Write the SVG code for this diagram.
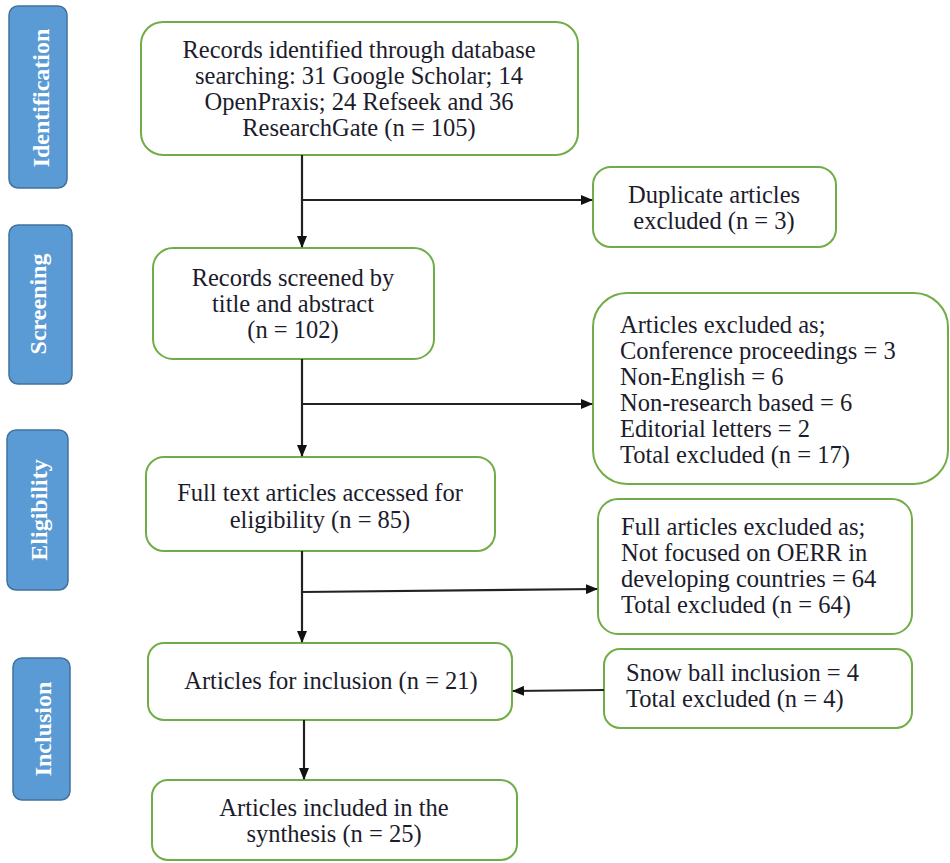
<svg xmlns="http://www.w3.org/2000/svg" width="950" height="863" viewBox="0 0 950 863" font-family="'Liberation Serif', 'Times New Roman', serif">
<style>
.box{fill:#fff;stroke:#70ad47;stroke-width:2}
.side{fill:#5b9bd5;stroke:#41719c;stroke-width:1.5}
.t{font-size:24.5px;fill:#1c1c2c}
.c{text-anchor:middle}
.s{font-size:24px;font-weight:bold;fill:#fff;text-anchor:middle}
.ln{stroke:#222;stroke-width:2.2;fill:none}
</style>
<defs>
<marker id="ah" markerWidth="12" markerHeight="10" refX="11" refY="5" orient="auto" markerUnits="userSpaceOnUse">
<path d="M0,0 L12,5 L0,10 z" fill="#111"/>
</marker>
</defs>
<rect width="950" height="863" fill="#fff"/>
<g id="side-identification"><rect class="side" x="9" y="6" width="58" height="182" rx="9"/><text class="s" font-family="'Liberation Serif'" transform="translate(49,98) rotate(-90)">Identification</text></g>
<g id="side-screening"><rect class="side" x="9" y="225" width="63" height="159" rx="9"/><text class="s" font-family="'Liberation Serif'" transform="translate(46,304) rotate(-90)">Screening</text></g>
<g id="side-eligibility"><rect class="side" x="7" y="430" width="61" height="160" rx="9"/><text class="s" font-family="'Liberation Serif'" transform="translate(47,510) rotate(-90)">Eligibility</text></g>
<g id="side-inclusion"><rect class="side" x="13" y="658" width="57" height="142" rx="9"/><text class="s" font-family="'Liberation Serif'" transform="translate(51,729) rotate(-90)">Inclusion</text></g>

<g id="identified"><rect class="box" x="141" y="22" width="437" height="133" rx="22"/>
<text class="t c" x="359" y="58">Records identified through database</text>
<text class="t c" x="359" y="84">searching: 31 Google Scholar; 14</text>
<text class="t c" x="359" y="110">OpenPraxis; 24 Refseek and 36</text>
<text class="t c" x="359" y="136">ResearchGate (n = 105)</text></g>

<g id="duplicates"><rect class="box" x="593" y="167" width="243" height="80" rx="18"/>
<text class="t c" x="714" y="203">Duplicate articles</text>
<text class="t c" x="714" y="229">excluded (n = 3)</text></g>

<g id="screened"><rect class="box" x="153" y="248" width="281" height="111" rx="20"/>
<text class="t c" x="293" y="286">Records screened by</text>
<text class="t c" x="293" y="312">title and abstract</text>
<text class="t c" x="293" y="338">(n = 102)</text></g>

<g id="excluded1"><rect class="box" x="593" y="293" width="355" height="191" rx="34"/>
<text class="t" x="620" y="333">Articles excluded as;</text>
<text class="t" x="620" y="359">Conference proceedings = 3</text>
<text class="t" x="620" y="385">Non-English = 6</text>
<text class="t" x="620" y="411">Non-research based = 6</text>
<text class="t" x="620" y="437">Editorial letters = 2</text>
<text class="t" x="620" y="463">Total excluded (n = 17)</text></g>

<g id="fulltext"><rect class="box" x="146" y="457" width="349" height="94" rx="18"/>
<text class="t c" x="320" y="501">Full text articles accessed for</text>
<text class="t c" x="320" y="528">eligibility (n = 85)</text></g>

<g id="excluded2"><rect class="box" x="598" y="499" width="314" height="135" rx="20"/>
<text class="t" x="621" y="535">Full articles excluded as;</text>
<text class="t" x="621" y="561">Not focused on OERR in</text>
<text class="t" x="621" y="587">developing countries = 64</text>
<text class="t" x="621" y="613">Total excluded (n = 64)</text></g>

<g id="inclusion"><rect class="box" x="148" y="643" width="364" height="77" rx="16"/>
<text class="t c" x="331" y="689">Articles for inclusion (n = 21)</text></g>

<g id="snowball"><rect class="box" x="604" y="649" width="308" height="79" rx="16"/>
<text class="t" x="626" y="681">Snow ball inclusion = 4</text>
<text class="t" x="626" y="707">Total excluded (n = 4)</text></g>

<g id="synthesis"><rect class="box" x="152" y="780" width="365" height="80" rx="16"/>
<text class="t c" x="334" y="816">Articles included in the</text>
<text class="t c" x="334" y="842">synthesis (n = 25)</text></g>

<g id="connectors">
<line class="ln" x1="302" y1="155" x2="302" y2="247" marker-end="url(#ah)"/>
<line class="ln" x1="302" y1="200" x2="592" y2="200" marker-end="url(#ah)"/>
<line class="ln" x1="302" y1="359" x2="302" y2="456" marker-end="url(#ah)"/>
<line class="ln" x1="302" y1="404" x2="592" y2="404" marker-end="url(#ah)"/>
<line class="ln" x1="302" y1="551" x2="302" y2="642" marker-end="url(#ah)"/>
<line class="ln" x1="302" y1="592" x2="597" y2="589" marker-end="url(#ah)"/>
<line class="ln" x1="304" y1="720" x2="304" y2="779" marker-end="url(#ah)"/>
<line class="ln" x1="604" y1="690" x2="513" y2="691" marker-end="url(#ah)"/>
</g>
</svg>
